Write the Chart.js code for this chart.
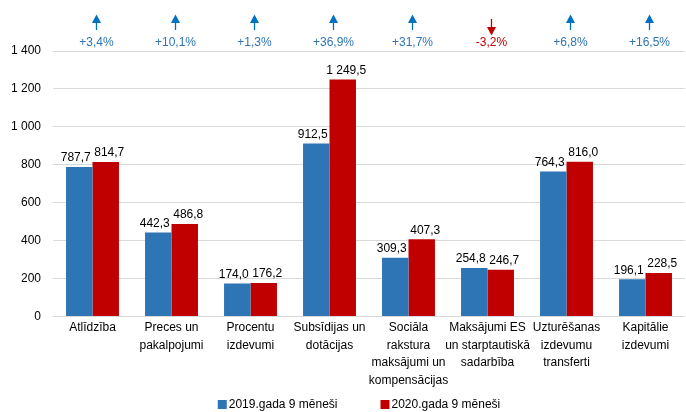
<!DOCTYPE html>
<html>
<head>
<meta charset="utf-8">
<script src="https://cdn.jsdelivr.net/npm/chart.js@4.4.0/dist/chart.umd.min.js"></script>
<style>
  html, body { margin: 0; padding: 0; background: #fff; }
  #wrap { width: 686px; height: 412px; }
</style>
</head>
<body>
<div id="wrap"><canvas id="myChart" width="686" height="412"></canvas></div>
<script>
const kategorijas = [
  ["Atlīdzība"],
  ["Preces un", "pakalpojumi"],
  ["Procentu", "izdevumi"],
  ["Subsīdijas un", "dotācijas"],
  ["Sociāla", "rakstura", "maksājumi un", "kompensācijas"],
  ["Maksājumi ES", "un starptautiskā", "sadarbība"],
  ["Uzturēšanas", "izdevumu", "transferti"],
  ["Kapitālie", "izdevumi"]
];
const gads2019 = [787.7, 442.3, 174.0, 912.5, 309.3, 254.8, 764.3, 196.1];
const gads2020 = [814.7, 486.8, 176.2, 1249.5, 407.3, 246.7, 816.0, 228.5];
const izmaina = ["+3,4%", "+10,1%", "+1,3%", "+36,9%", "+31,7%", "-3,2%", "+6,8%", "+16,5%"];
const yTicks = [0, 200, 400, 600, 800, 1000, 1200, 1400];

const FONT = "'Liberation Sans', Arial, sans-serif";

function formatSk(v, dec) {
  let s = v.toFixed(dec).replace(".", ",");
  let parts = s.split(",");
  parts[0] = parts[0].replace(/\B(?=(\d{3})+(?!\d))/g, " ");
  return parts.join(",");
}

// vertibas virs stabiniem
const vertibas = {
  id: "vertibas",
  afterDatasetsDraw(chart) {
    const ctx = chart.ctx;
    ctx.save();
    ctx.font = "12px " + FONT;
    ctx.fillStyle = "#000";
    ctx.textAlign = "center";
    ctx.textBaseline = "bottom";
    chart.data.datasets.forEach((ds, di) => {
      const nob = di == 0 ? -3.5 : 3.5;
      chart.getDatasetMeta(di).data.forEach((bar, i) => {
        ctx.fillText(formatSk(ds.data[i], 1), bar.x + nob, bar.y - 3);
      });
    });
    ctx.restore();
  }
};

// bultas un procenti augsa + legenda apaksa
const bultas = {
  id: "bultas",
  afterDraw(chart) {
    const ctx = chart.ctx;
    const xs = chart.scales.x;
    ctx.save();
    ctx.font = "12px " + FONT;
    ctx.textAlign = "center";
    ctx.textBaseline = "middle";
    izmaina.forEach((t, i) => {
      const x = xs.getPixelForValue(i) + 4;
      const neg = t.charAt(0) == "-";
      const col = neg ? "#C00000" : "#0070C0";
      ctx.fillStyle = neg ? "#C00000" : "#2E75B6";
      ctx.fillText(t, x, 43);
      ctx.fillStyle = col;
      ctx.strokeStyle = col;
      ctx.lineWidth = 1.3;
      ctx.beginPath();
      if (!neg) {
        ctx.moveTo(x, 22); ctx.lineTo(x, 30);
        ctx.stroke();
        ctx.beginPath();
        ctx.moveTo(x, 14.5); ctx.lineTo(x - 4.5, 23); ctx.lineTo(x + 4.5, 23);
      } else {
        ctx.moveTo(x, 19); ctx.lineTo(x, 28);
        ctx.stroke();
        ctx.beginPath();
        ctx.moveTo(x, 35.5); ctx.lineTo(x - 4.5, 27); ctx.lineTo(x + 4.5, 27);
      }
      ctx.closePath();
      ctx.fill();
    });

    // legenda
    ctx.textAlign = "left";
    const items = chart.data.datasets;
    const widths = items.map(d => 11 + ctx.measureText(d.label).width);
    const gap = 43;
    let x = (chart.chartArea.left + chart.chartArea.right) / 2 - 10
      - (widths[0] + widths[1] + gap) / 2;
    const y = 404;
    items.forEach((d, i) => {
      ctx.fillStyle = d.backgroundColor;
      ctx.fillRect(x, y - 4, 9, 9);
      ctx.fillStyle = "#000";
      ctx.fillText(d.label, x + 11, y + 1);
      x += widths[i] + gap;
    });
    ctx.restore();
  }
};

const ctx = document.getElementById("myChart");
const myChart = new Chart(ctx, {
  type: "bar",
  data: {
    labels: kategorijas,
    datasets: [
      {
        label: "2019.gada 9 mēneši",
        data: gads2019,
        backgroundColor: "#2E75B6",
        categoryPercentage: 0.67,
        barPercentage: 1.0
      },
      {
        label: "2020.gada 9 mēneši",
        data: gads2020,
        backgroundColor: "#C00000",
        categoryPercentage: 0.67,
        barPercentage: 1.0
      }
    ]
  },
  options: {
    responsive: false,
    animation: false,
    layout: { padding: { top: 51, right: 1, left: 0, bottom: 20 } },
    plugins: {
      tooltip: { enabled: false },
      legend: { display: false }
    },
    scales: {
      x: {
        grid: { display: false, drawTicks: false },
        border: { display: false },
        ticks: {
          color: "#000",
          maxRotation: 0,
          autoSkip: false,
          padding: 3,
          font: { family: FONT, size: 12, lineHeight: 1.45 }
        }
      },
      y: {
        min: 0,
        max: 1400,
        afterBuildTicks(s) { s.ticks = yTicks.map(v => ({ value: v })); },
        afterFit(s) { s.width = 53; },
        grid: { color: "#D9D9D9", drawTicks: false },
        border: { display: false },
        ticks: {
          color: "#000",
          padding: 12,
          font: { family: FONT, size: 12 },
          callback: v => formatSk(v, 0)
        }
      }
    }
  },
  plugins: [vertibas, bultas]
});
</script>
</body>
</html>
